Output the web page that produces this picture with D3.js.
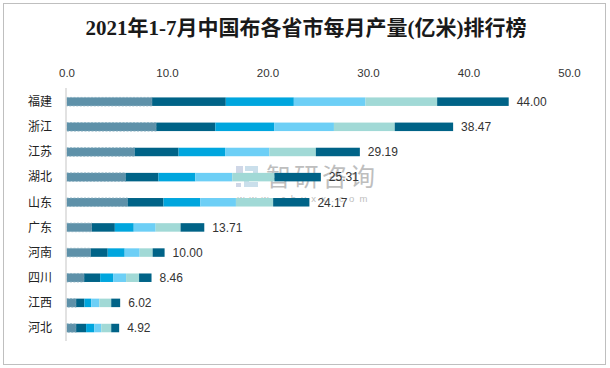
<!DOCTYPE html>
<html>
<head>
<meta charset="utf-8">
<script src="https://cdn.jsdelivr.net/npm/d3@7/dist/d3.min.js"></script>
<style>
  html, body { margin: 0; padding: 0; background: #fff; }
  svg { display: block; }
</style>
</head>
<body>
<svg id="chart" width="610" height="368"></svg>
<script>
// ---- data ----
const title = "2021年1-7月中国布各省市每月产量(亿米)排行榜";
const provinces = ["福建", "浙江", "江苏", "湖北", "山东", "广东", "河南", "四川", "江西", "河北"];
const months = ["1-2月", "3月", "4月", "5月", "6月", "7月"];
const m12 = [8.52, 8.93, 6.78, 5.88, 6.08, 2.53, 2.41, 1.76, 0.96, 0.96];
const m3  = [7.33, 5.88, 4.37, 3.27, 3.57, 2.28, 1.69, 1.59, 0.82, 0.99];
const m4  = [6.77, 5.85, 4.63, 3.67, 3.67, 1.88, 1.69, 1.29, 0.69, 0.82];
const m5  = [7.13, 5.95, 4.40, 3.67, 3.54, 2.18, 1.49, 1.29, 0.79, 0.69];
const m6  = [7.13, 6.05, 4.63, 4.20, 3.70, 2.48, 1.29, 1.29, 1.19, 0.99];
const m7  = [7.12, 5.81, 4.38, 4.62, 3.61, 2.36, 1.19, 1.24, 0.89, 0.79];
const totals = ["44.00", "38.47", "29.19", "25.31", "24.17", "13.71", "10.00", "8.46", "6.02", "4.92"];
const xTicks = [0, 10, 20, 30, 40, 50];
const colors = ["#5e91a9", "#006387", "#00a6de", "#6dcff6", "#a1d9d6", "#006387"];

// ---- build ----
const svg = d3.select("#chart");

svg.append("rect").attr("x", 3.5).attr("y", 3.5).attr("width", 602).attr("height", 361)
  .attr("fill", "#fff").attr("stroke", "#bfbfbf").attr("stroke-width", 1);

svg.append("text").attr("x", 306).attr("y", 35).attr("text-anchor", "middle")
  .attr("font-family", "'Liberation Serif', 'Noto Sans CJK SC', serif")
  .attr("font-weight", "bold").attr("font-size", 21).attr("fill", "#1a1a1a")
  .text(title);

const x = d3.scaleLinear().domain([0, 50]).range([66.5, 569]);
const y = d3.scaleBand().domain(provinces).range([89.1, 340.6]).padding(0);
const barH = 8.5;

// top axis
const axis = d3.axisTop(x).tickValues(xTicks).tickFormat(d3.format(".1f")).tickSize(0).tickPadding(0);
const gx = svg.append("g").attr("transform", "translate(0,77)").call(axis);
gx.select(".domain").remove();
gx.selectAll("text").attr("font-family", "'Liberation Sans', Arial, sans-serif")
  .attr("font-size", 11.5).attr("fill", "#333");

// watermark
const wm = svg.append("g").attr("opacity", 0.55);
wm.append("rect").attr("x", 236).attr("y", 166).attr("width", 7).attr("height", 7).attr("fill", "#a9b8d4");
wm.append("path").attr("d", "M245,166 h13 v11 h-9 v5 h9 v5 h-14 v-14 h9 v-2 h-8 z").attr("fill", "#9fc6dc");
wm.append("rect").attr("x", 236).attr("y", 176).attr("width", 5).attr("height", 5).attr("fill", "#a9b8d4");
wm.append("rect").attr("x", 236).attr("y", 183).attr("width", 5).attr("height", 4).attr("fill", "#a9b8d4");
wm.append("text").attr("x", 322).attr("y", 186).attr("text-anchor", "middle")
  .attr("font-family", "'Noto Sans CJK SC', sans-serif").attr("font-size", 25)
  .attr("letter-spacing", 3).attr("fill", "#8a8a8a").text("智研咨询");
wm.append("text").attr("x", 305).attr("y", 201.5).attr("text-anchor", "middle")
  .attr("font-family", "'Liberation Sans', Arial, sans-serif").attr("font-size", 9.5)
  .attr("letter-spacing", 5.2).attr("fill", "#8a8a8a").text("www.chyxx.com");

// stacked bars
const table = provinces.map((p, i) => {
  const vals = [m12[i], m3[i], m4[i], m5[i], m6[i], m7[i]];
  const o = { p };
  months.forEach((k, j) => o[k] = vals[j]);
  return o;
});
const stack = d3.stack().keys(months)(table);

stack.forEach((layer, li) => {
  svg.append("g").selectAll("rect").data(layer).join("rect")
    .attr("x", d => x(d[0]))
    .attr("y", d => y(d.data.p) + y.bandwidth() / 2 - barH / 2)
    .attr("width", d => x(d[1]) - x(d[0]))
    .attr("height", barH)
    .attr("fill", colors[li])
    .attr("stroke", li === 0 ? "#86aec0" : "none")
    .attr("stroke-width", li === 0 ? 0.8 : 0)
    .attr("stroke-dasharray", li === 0 ? "2,1.5" : null);
});

// vertical axis line
svg.append("line").attr("x1", 66).attr("x2", 66).attr("y1", 88).attr("y2", 341)
  .attr("stroke", "#d9d9d9").attr("stroke-width", 1.5);

// category labels
svg.append("g").selectAll("text").data(provinces).join("text")
  .attr("x", 52).attr("y", d => y(d) + y.bandwidth() / 2).attr("dy", "0.36em")
  .attr("text-anchor", "end")
  .attr("font-family", "'Noto Sans CJK SC', sans-serif").attr("font-size", 12).attr("fill", "#222")
  .text(d => d);

// total labels
const last = stack[stack.length - 1];
svg.append("g").selectAll("text").data(last).join("text")
  .attr("x", d => x(d[1]) + 8)
  .attr("y", d => y(d.data.p) + y.bandwidth() / 2).attr("dy", "0.36em")
  .attr("font-family", "'Liberation Sans', Arial, sans-serif").attr("font-size", 12).attr("fill", "#333")
  .text((d, i) => totals[i]);
</script>
</body>
</html>
